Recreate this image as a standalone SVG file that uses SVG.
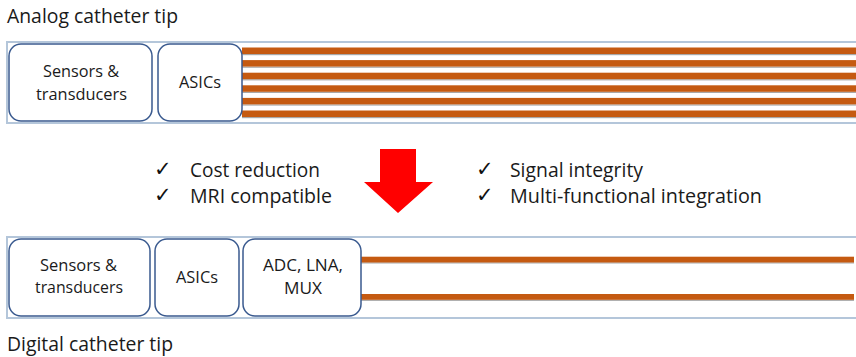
<svg xmlns="http://www.w3.org/2000/svg" width="856" height="357" viewBox="0 0 856 357">
<style>
.t{font-family:"Open Sans","Liberation Sans",sans-serif;fill:#1a1a1a}
.lbl{font-size:20px}
.bx{font-size:16px}
.ck{font-family:"DejaVu Sans",sans-serif;font-size:21px;fill:#111}
.frame{fill:#fff;stroke:#B4C6DA;stroke-width:2}
.node{fill:#fff;stroke:#3A5A8F;stroke-width:1.5}
.wire{fill:#C55A11}
.sh{fill:#A8A8A8}
</style>
<rect width="856" height="357" fill="#fff"/>
<text class="t lbl" x="7" y="23" textLength="171" lengthAdjust="spacingAndGlyphs">Analog catheter tip</text>
<rect class="frame" x="7" y="42" width="851" height="81"/>
<g id="wires-top">
<rect class="sh" x="242" y="54" width="614" height="1.2"/>
<rect class="sh" x="242" y="66.6" width="614" height="1.2"/>
<rect class="sh" x="242" y="79.2" width="614" height="1.2"/>
<rect class="sh" x="242" y="91.8" width="614" height="1.2"/>
<rect class="sh" x="242" y="104.4" width="614" height="1.2"/>
<rect class="sh" x="242" y="117" width="614" height="1.2"/>
<rect class="wire" x="242" y="47.5" width="614" height="6.5"/>
<rect class="wire" x="242" y="60.1" width="614" height="6.5"/>
<rect class="wire" x="242" y="72.7" width="614" height="6.5"/>
<rect class="wire" x="242" y="85.3" width="614" height="6.5"/>
<rect class="wire" x="242" y="97.9" width="614" height="6.5"/>
<rect class="wire" x="242" y="110.5" width="614" height="6.5"/>
</g>
<g id="a-sensors">
<rect class="node" x="9" y="44" width="143" height="77" rx="12"/>
<text class="t bx" x="43" y="77" textLength="76" lengthAdjust="spacingAndGlyphs">Sensors &amp;</text>
<text class="t bx" x="36" y="100" textLength="91" lengthAdjust="spacingAndGlyphs">transducers</text>
</g>
<g id="a-asics">
<rect class="node" x="158" y="44" width="84" height="77" rx="12"/>
<text class="t bx" x="179" y="88" textLength="42" lengthAdjust="spacingAndGlyphs">ASICs</text>
</g>
<g id="benefits-left">
<text class="ck" x="154" y="176">✓</text>
<text class="t lbl" x="190" y="177" textLength="130" lengthAdjust="spacingAndGlyphs">Cost reduction</text>
<text class="ck" x="154" y="202">✓</text>
<text class="t lbl" x="190" y="203" textLength="142" lengthAdjust="spacingAndGlyphs">MRI compatible</text>
</g>
<g id="arrow">
<polygon points="380,149 416,149 416,182 433,182 398,213 364,182 380,182" fill="#FF0000"/>
</g>
<g id="benefits-right">
<text class="ck" x="476" y="176">✓</text>
<text class="t lbl" x="510" y="177" textLength="133" lengthAdjust="spacingAndGlyphs">Signal integrity</text>
<text class="ck" x="476" y="202">✓</text>
<text class="t lbl" x="510" y="203" textLength="252" lengthAdjust="spacingAndGlyphs">Multi-functional integration</text>
</g>
<rect class="frame" x="7" y="237" width="851" height="81"/>
<g id="wires-bottom">
<rect class="sh" x="361" y="262.3" width="493" height="1.2"/>
<rect class="sh" x="361" y="299.7" width="493" height="1.2"/>
<rect class="wire" x="361" y="256.7" width="493" height="5.8"/>
<rect class="wire" x="361" y="294" width="493" height="5.8"/>
</g>
<g id="d-sensors">
<rect class="node" x="9" y="239" width="141" height="77" rx="12"/>
<text class="t bx" x="40" y="271" textLength="77" lengthAdjust="spacingAndGlyphs">Sensors &amp;</text>
<text class="t bx" x="35" y="293" textLength="88" lengthAdjust="spacingAndGlyphs">transducers</text>
</g>
<g id="d-asics">
<rect class="node" x="155" y="239" width="84" height="77" rx="12"/>
<text class="t bx" x="176" y="283" textLength="42" lengthAdjust="spacingAndGlyphs">ASICs</text>
</g>
<g id="d-adc">
<rect class="node" x="243" y="239" width="118" height="77" rx="12"/>
<text class="t bx" x="263" y="271" textLength="80" lengthAdjust="spacingAndGlyphs">ADC, LNA,</text>
<text class="t bx" x="284" y="294" textLength="38" lengthAdjust="spacingAndGlyphs">MUX</text>
</g>
<text class="t lbl" x="7" y="351" textLength="166" lengthAdjust="spacingAndGlyphs">Digital catheter tip</text>
</svg>
